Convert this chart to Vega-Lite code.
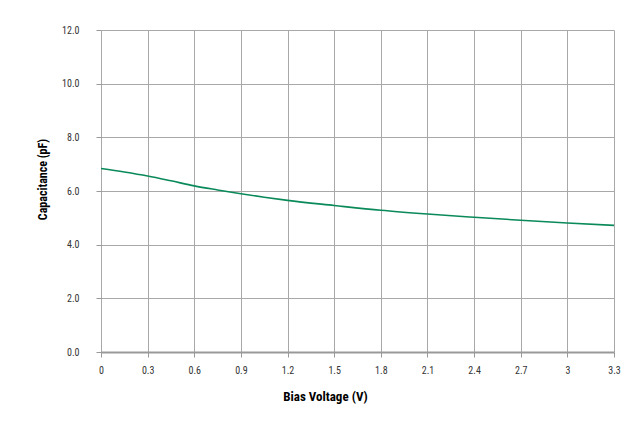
{
  "$schema": "https://vega.github.io/schema/vega-lite/v6.json",
  "width": 513,
  "height": 322,
  "autosize": {"type": "none"},
  "padding": {"left": 101, "top": 30, "right": 30, "bottom": 82},
  "background": "white",
  "config": {
    "view": {"stroke": null},
    "font": "'Roboto Condensed', 'Liberation Sans Narrow', 'DejaVu Sans Condensed', Roboto, sans-serif"
  },
  "data": {
    "values": [
      {"v": 0.0, "c": 6.84},
      {"v": 0.15, "c": 6.71},
      {"v": 0.3, "c": 6.56},
      {"v": 0.45, "c": 6.38},
      {"v": 0.6, "c": 6.19},
      {"v": 0.75, "c": 6.04},
      {"v": 0.9, "c": 5.9},
      {"v": 1.05, "c": 5.77},
      {"v": 1.2, "c": 5.65},
      {"v": 1.5, "c": 5.46},
      {"v": 1.8, "c": 5.28},
      {"v": 2.1, "c": 5.14},
      {"v": 2.4, "c": 5.02},
      {"v": 2.7, "c": 4.91},
      {"v": 3.0, "c": 4.81},
      {"v": 3.3, "c": 4.72}
    ]
  },
  "mark": {"type": "line", "color": "#0a8a5a", "strokeWidth": 1.6, "interpolate": "monotone"},
  "encoding": {
    "x": {
      "field": "v",
      "type": "quantitative",
      "scale": {"domain": [0, 3.3], "nice": false, "zero": false},
      "axis": {
        "title": "Bias Voltage (V)",
        "values": [0, 0.3, 0.6, 0.9, 1.2, 1.5, 1.8, 2.1, 2.4, 2.7, 3, 3.3],
        "format": "~g",
        "grid": true,
        "gridColor": "#a8a8a8",
        "gridWidth": 1,
        "domain": true,
        "domainColor": "#999999",
        "domainWidth": 2,
        "tickColor": "#999999",
        "tickSize": 5,
        "labelPadding": 8,
        "labelFontSize": 10,
        "labelColor": "#333333",
        "labelFlush": false,
        "titleFontSize": 13,
        "titleFontWeight": "bold",
        "titleColor": "#000000",
        "titlePadding": 15,
        "titleX": 224
      }
    },
    "y": {
      "field": "c",
      "type": "quantitative",
      "scale": {"domain": [0, 12], "nice": false},
      "axis": {
        "title": "Capacitance (pF)",
        "values": [0, 2, 4, 6, 8, 10, 12],
        "format": ".1f",
        "grid": true,
        "gridColor": "#a8a8a8",
        "gridWidth": 1,
        "domain": false,
        "tickColor": "#999999",
        "tickSize": 5,
        "labelPadding": 17,
        "labelFontSize": 10,
        "labelColor": "#333333",
        "labelFlush": false,
        "titleFontSize": 12,
        "titleFontWeight": "bold",
        "titleColor": "#000000",
        "titlePadding": 12,
        "titleY": 149
      }
    }
  }
}
